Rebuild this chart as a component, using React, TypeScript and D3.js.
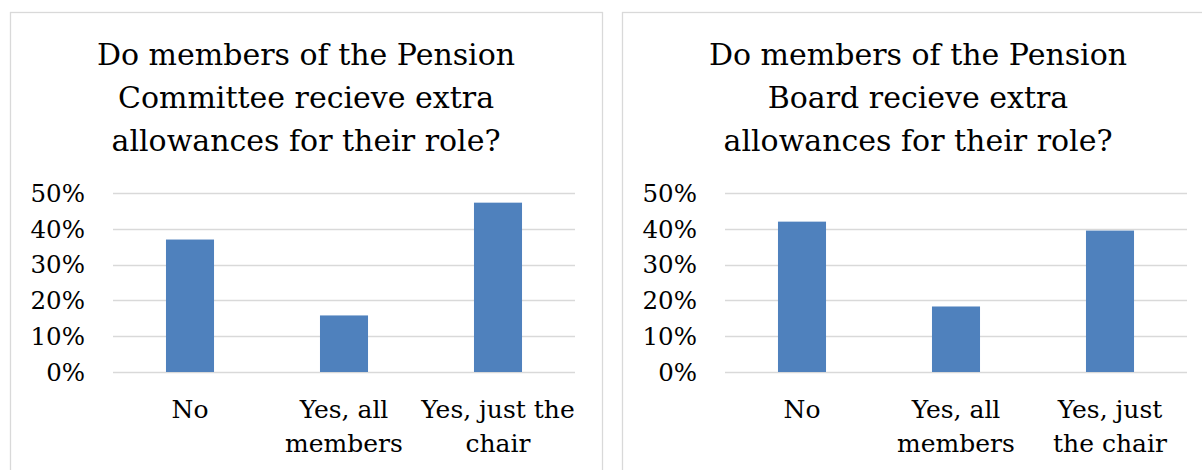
import React from "react";
import * as d3 from "d3";

const categories = ["No", "Yes, all members", "Yes, just the chair"];
const committeeValues = [0.37, 0.158, 0.473];
const boardValues = [0.42, 0.183, 0.395];
const yTicks = [0, 0.1, 0.2, 0.3, 0.4, 0.5];
const committeeTitle = ["Do members of the Pension", "Committee recieve extra", "allowances for their role?"];
const boardTitle = ["Do members of the Pension", "Board recieve extra", "allowances for their role?"];
const committeeLabels = [["No"], ["Yes, all", "members"], ["Yes, just the", "chair"]];
const boardLabels = [["No"], ["Yes, all", "members"], ["Yes, just", "the chair"]];

const FONT = "'DejaVu Serif', serif";
const BAR = "#4F81BD";
const GRID = "#D9D9D9";

type PanelProps = {
  x0: number;
  title: string[];
  values: number[];
  labels: string[][];
};

function Panel({ x0, title, values, labels }: PanelProps) {
  const W = 592;
  const plotLeft = 103;
  const plotRight = 565;
  const yTop = 193;
  const yBottom = 372;
  const x = d3
    .scaleBand<string>()
    .domain(categories)
    .range([plotLeft, plotRight])
    .paddingInner(0.688)
    .paddingOuter(0.344);
  const y = d3.scaleLinear().domain([0, 0.5]).range([yBottom, yTop]);
  const fmt = d3.format(".0%");
  return (
    <g transform={`translate(${x0},0)`}>
      <rect x={0.5} y={12.5} width={W} height={480} fill="#fff" stroke={GRID} strokeWidth={1.3} />
      {title.map((t, i) => (
        <text key={i} x={W / 2} y={65 + i * 43} textAnchor="middle" fontFamily={FONT} fontSize={30} fill="#000">
          {t}
        </text>
      ))}
      {yTicks.map((t) => (
        <g key={t}>
          <line x1={plotLeft} x2={plotRight} y1={Math.round(y(t)) + 0.5} y2={Math.round(y(t)) + 0.5} stroke={GRID} strokeWidth={1.5} />
          <text x={75} y={y(t)} dy="0.36em" textAnchor="end" fontFamily={FONT} fontSize={24.5} fill="#000">
            {fmt(t)}
          </text>
        </g>
      ))}
      {categories.map((c, i) => (
        <rect key={c} x={x(c)} y={y(values[i])} width={x.bandwidth()} height={y(0) - y(values[i])} fill={BAR} />
      ))}
      {categories.map((c, i) => (
        <text key={c} textAnchor="middle" fontFamily={FONT} fontSize={25} fill="#000">
          {labels[i].map((l, j) => (
            <tspan key={j} x={(x(c) as number) + x.bandwidth() / 2} y={yBottom + 46 + j * 34}>
              {l}
            </tspan>
          ))}
        </text>
      ))}
    </g>
  );
}

export default function App() {
  return (
    <svg width={1202} height={470} style={{ position: "absolute", left: 0, top: 0, background: "#fff" }}>
      <rect width={1202} height={470} fill="#fff" />
      <Panel x0={10} title={committeeTitle} values={committeeValues} labels={committeeLabels} />
      <Panel x0={622} title={boardTitle} values={boardValues} labels={boardLabels} />
    </svg>
  );
}
